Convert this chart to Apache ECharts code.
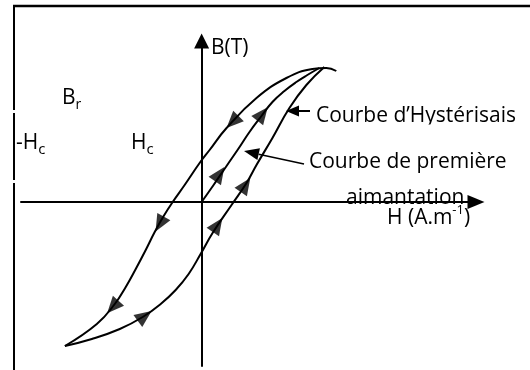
<!DOCTYPE html>
<html>
<head>
<meta charset="utf-8">
<script src="https://cdn.jsdelivr.net/npm/echarts@6/dist/echarts.min.js"></script>
<style>
  html, body { margin: 0; padding: 0; background: #fff; }
  #main { width: 530px; height: 370px; }
</style>
</head>
<body>
<div id="main"></div>
<script>
// Hysteresis loop of a ferromagnetic material: H in A/m, B in tesla.

// Descending branch, from saturation down to negative saturation.
const descendingBranch = [
  [135, 1.31], [125, 1.34], [111, 1.33], [85, 1.24], [55, 1.04], [25, 0.74],
  [8, 0.52], [-2, 0.39], [-17, 0.17], [-29, 0.00], [-38, -0.14], [-47, -0.30],
  [-56, -0.48], [-66, -0.67], [-76, -0.85], [-87, -1.02], [-105, -1.22], [-137, -1.44]
];

// Ascending branch, from negative saturation back up to saturation.
const ascendingBranch = [
  [-137, -1.44], [-110, -1.37], [-82, -1.27], [-59, -1.15], [-41, -1.02], [-26, -0.88],
  [-13, -0.72], [-1, -0.52], [11, -0.31], [30, -0.03], [45, 0.19], [55, 0.37], [71, 0.64],
  [88, 0.94], [105, 1.17], [123, 1.35]
];

// First magnetization curve, starting from the demagnetized state.
const firstMagnetization = [
  [0, 0.00], [12, 0.17], [25, 0.36], [36, 0.52], [48, 0.70], [60, 0.86],
  [71, 1.00], [83, 1.11], [95, 1.20], [106, 1.27], [118, 1.34]
];

// Direction arrows placed along each curve.
const descendingArrows = [[31, 0.80], [-42, -0.22], [-89, -1.05]];
const ascendingArrows = [[-57, -1.14], [16, -0.23], [44, 0.17]];
const firstMagArrows = [[18, 0.28], [61, 0.88]];

// Axis extents (data units).
const hRange = [-181, 275];
const bRange = [-1.64, 1.61];

const FONT = '"Open Sans", "Noto Sans", sans-serif';
const SIZE = 21;

const chart = echarts.init(document.getElementById('main'), null, { renderer: 'canvas' });

const axisLineStyle = { color: '#000', width: 2 };
const curveStyle = { color: '#000', width: 2 };

chart.setOption({
  animation: false,
  backgroundColor: '#fff',
  grid: { left: 21, right: 54, top: 41, bottom: 4, containLabel: false },
  xAxis: {
    type: 'value', min: hRange[0], max: hRange[1],
    axisLine: { onZero: true, lineStyle: axisLineStyle, symbol: ['none', 'triangle'], symbolSize: [14, 17] },
    axisTick: { show: false }, axisLabel: { show: false }, splitLine: { show: false }
  },
  yAxis: {
    type: 'value', min: bRange[0], max: bRange[1],
    axisLine: { onZero: true, lineStyle: axisLineStyle, symbol: ['none', 'triangle'], symbolSize: [15, 15] },
    axisTick: { show: false }, axisLabel: { show: false }, splitLine: { show: false }
  },
  series: [
    { name: 'descente', type: 'line', data: descendingBranch, smooth: 0.45, showSymbol: false,
      lineStyle: curveStyle, silent: true },
    { name: 'montée', type: 'line', data: ascendingBranch, smooth: 0.45, showSymbol: false,
      lineStyle: curveStyle, silent: true },
    { name: 'première aimantation', type: 'line', data: firstMagnetization, smooth: 0.45, showSymbol: false,
      lineStyle: curveStyle, silent: true }
  ]
});

// Orient each arrow along the nearest segment of its curve, in screen space.
function arrowItems(branch, marks) {
  const pts = branch.map(p => chart.convertToPixel({ gridIndex: 0 }, p));
  return marks.map(m => {
    const q = chart.convertToPixel({ gridIndex: 0 }, m);
    let best = 0, bestD = Infinity;
    for (let i = 0; i < pts.length - 1; i++) {
      const a = pts[i], b = pts[i + 1];
      const vx = b[0] - a[0], vy = b[1] - a[1];
      const len2 = vx * vx + vy * vy || 1;
      let t = ((q[0] - a[0]) * vx + (q[1] - a[1]) * vy) / len2;
      t = Math.max(0, Math.min(1, t));
      const dx = a[0] + t * vx - q[0], dy = a[1] + t * vy - q[1];
      const d = dx * dx + dy * dy;
      if (d < bestD) { bestD = d; best = i; }
    }
    const a = pts[best], b = pts[best + 1];
    const dx = b[0] - a[0], dy = b[1] - a[1];
    return { value: m, symbolRotate: Math.atan2(-dx, -dy) * 180 / Math.PI };
  });
}

const arrowData = []
  .concat(arrowItems(descendingBranch, descendingArrows))
  .concat(arrowItems(ascendingBranch, ascendingArrows))
  .concat(arrowItems(firstMagnetization, firstMagArrows));

// Arrow head for a leader line, tip first.
function leaderHead(tip, toward, len, half) {
  const vx = toward[0] - tip[0], vy = toward[1] - tip[1];
  const l = Math.hypot(vx, vy);
  const ux = vx / l, uy = vy / l;
  const bx = tip[0] + ux * len, by = tip[1] + uy * len;
  return {
    base: [bx, by],
    points: [tip, [bx - uy * half, by + ux * half], [bx + uy * half, by - ux * half]]
  };
}
const head2 = leaderHead([244, 151], [304, 164], 15, 6);

const txt = (x, y, text) => ({
  type: 'text', x: x, y: y, silent: true,
  style: { text: text, font: SIZE + 'px ' + FONT, fill: '#000', verticalAlign: 'middle' }
});

const subLabel = (x, y, main, sub, subSize) => ({
  type: 'text', x: x, y: y, silent: true,
  style: {
    text: '{m|' + main + '}{s|' + sub + '}', fill: '#000', verticalAlign: 'middle',
    rich: {
      m: { fontSize: SIZE, fontFamily: FONT, lineHeight: 25, verticalAlign: 'top' },
      s: { fontSize: subSize, fontFamily: FONT, lineHeight: subSize, verticalAlign: 'bottom' }
    }
  }
});

chart.setOption({
  series: [
    { name: 'descente' }, { name: 'montée' }, { name: 'première aimantation' },
    { name: 'sens', type: 'scatter', data: arrowData, symbol: 'triangle', symbolSize: [15, 17],
      itemStyle: { color: '#000' }, silent: true, z: 5 }
  ],
  graphic: [
    // Frame
    { type: 'line', shape: { x1: 13, y1: 6, x2: 530, y2: 6 }, style: { stroke: '#000', lineWidth: 2.5 }, silent: true },
    { type: 'line', shape: { x1: 14, y1: 5, x2: 14, y2: 110 }, style: { stroke: '#000', lineWidth: 2 }, silent: true },
    { type: 'line', shape: { x1: 14, y1: 113, x2: 14, y2: 180 }, style: { stroke: '#000', lineWidth: 2 }, silent: true },
    { type: 'line', shape: { x1: 14, y1: 183, x2: 14, y2: 370 }, style: { stroke: '#000', lineWidth: 2 }, silent: true },

    // Axis titles
    txt(211, 48, 'B(T)'),
    {
      type: 'text', x: 387, y: 216, silent: true,
      style: {
        text: '{m|H (A.m}{s|-1}{m|)}', fill: '#000', verticalAlign: 'middle',
        rich: {
          m: { fontSize: SIZE, fontFamily: FONT, lineHeight: 25, verticalAlign: 'bottom' },
          s: { fontSize: 13, fontFamily: FONT, lineHeight: 13, verticalAlign: 'top' }
        }
      }
    },

    // Remanence and coercive field labels
    subLabel(62, 100, 'B', 'r', 14),
    subLabel(16, 145, '-H', 'c', 15),
    subLabel(131, 145, 'H', 'c', 15),

    // Curve names with leader arrows
    txt(316, 116, 'Courbe d\u2019Hystérisais'),
    { type: 'rect', shape: { x: 315, y: 124.5, width: 215, height: 7 }, style: { fill: '#fff' }, silent: true, z: 10 },
    { type: 'polygon', shape: { points: [[286, 111], [299, 105.5], [299, 116.5]] }, style: { fill: '#000' }, silent: true },
    { type: 'line', shape: { x1: 298, y1: 111, x2: 310, y2: 111 }, style: { stroke: '#000', lineWidth: 2 }, silent: true },

    txt(309, 162, 'Courbe de première'),
    txt(346, 198, 'aimantation'),
    { type: 'polygon', shape: { points: head2.points }, style: { fill: '#000' }, silent: true },
    { type: 'line', shape: { x1: head2.base[0], y1: head2.base[1], x2: 304, y2: 164 }, style: { stroke: '#000', lineWidth: 1.5 }, silent: true }
  ]
});
</script>
</body>
</html>
